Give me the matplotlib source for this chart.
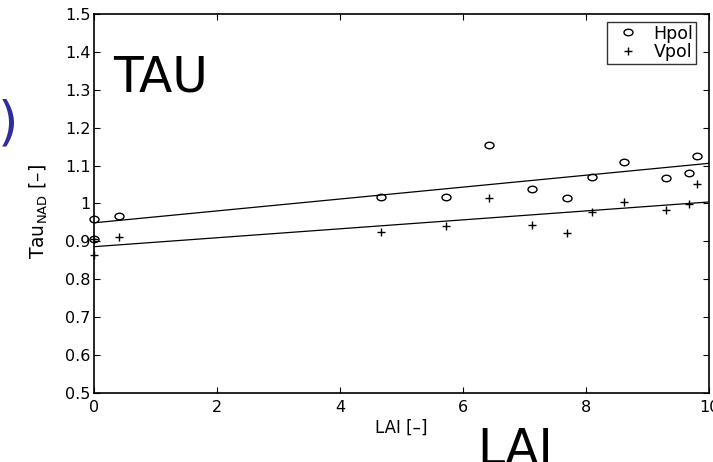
import numpy as np
import matplotlib
matplotlib.use('Agg')
import matplotlib.pyplot as plt
from matplotlib.path import Path
from matplotlib.transforms import Affine2D

plt.rcParams['font.family'] = ['DejaVu Sans']
plt.rcParams['mathtext.default'] = 'regular'

# data
lai_h = [0, 0, 0.41, 4.67, 5.72, 6.43, 7.12, 7.69, 8.09, 8.61, 9.30, 9.68, 9.81]
tau_h = [0.959, 0.906, 0.967, 1.017, 1.016, 1.155, 1.038, 1.015, 1.071, 1.110, 1.066, 1.081, 1.125]
lai_v = [0, 0, 0.41, 4.67, 5.72, 6.43, 7.12, 7.69, 8.09, 8.61, 9.30, 9.68, 9.81]
tau_v = [0.906, 0.864, 0.911, 0.926, 0.941, 1.014, 0.943, 0.923, 0.978, 1.005, 0.983, 0.999, 1.051]

fit_x = [0, 10]
fit_h = [0.949, 1.106]
fit_v = [0.886, 1.004]

xticks = [0, 2, 4, 6, 8, 10]
yticks = [0.5, 0.6, 0.7, 0.8, 0.9, 1.0, 1.1, 1.2, 1.3, 1.4, 1.5]
ytick_labels = ['0.5', '0.6', '0.7', '0.8', '0.9', '1', '1.1', '1.2', '1.3', '1.4', '1.5']

fig = plt.figure(figsize=(7.13, 4.62), dpi=100)
ax = fig.add_axes([0.1318, 0.1494, 0.8626, 0.8203])

# stretched circle, the source image is wider than tall
ell = Path.unit_circle().transformed(Affine2D().scale(1.0, 0.72))

ax.plot(fit_x, fit_h, color='k', lw=0.9)
ax.plot(fit_x, fit_v, color='k', lw=0.9)
ax.plot(lai_h, tau_h, linestyle='none', marker=ell, markersize=6.5,
        mfc='none', mec='k', mew=1.0, clip_on=False, label='Hpol')
ax.plot(lai_v, tau_v, linestyle='none', marker='+', markersize=5.5,
        color='k', mew=1.0, clip_on=False, label='Vpol')

ax.set_xlim(0, 10)
ax.set_ylim(0.5, 1.5)
ax.set_xticks(xticks)
ax.set_yticks(yticks)
ax.set_yticklabels(ytick_labels)
ax.tick_params(direction='in', top=True, right=True, length=4, width=0.8,
               labelsize=11.5, colors='k')
ax.tick_params(axis='x', pad=5)
ax.tick_params(axis='y', pad=2.5)
for s in ax.spines.values():
    s.set_linewidth(1.2)

ax.set_xlabel('LAI [–]', fontsize=12)
ax.xaxis.set_label_coords(0.5, -0.067)
ax.set_ylabel('Tau$_{NAD}$ [–]', fontsize=13.5)
ax.yaxis.set_label_coords(-0.072, 0.48)

leg = ax.legend(loc='upper right', bbox_to_anchor=(0.979, 0.979), borderaxespad=0,
                fontsize=12.5, frameon=True, fancybox=False, handlelength=2.2,
                handletextpad=0.35, borderpad=0.15, labelspacing=0.02)
leg.get_frame().set_edgecolor('k')
leg.get_frame().set_linewidth(1.0)

# overlay annotations
fig.text(113 / 713, 1 - 92 / 462, 'TAU', fontsize=35, ha='left', va='baseline')
fig.text(477 / 713, 1 - 463.5 / 462, 'LAI', fontsize=35, ha='left', va='baseline')
fig.text(8 / 713, 1 - 124 / 462, ')', fontsize=38, ha='center', va='center',
         color='#2f2f9c')

fig.savefig('out.png', dpi=100)
